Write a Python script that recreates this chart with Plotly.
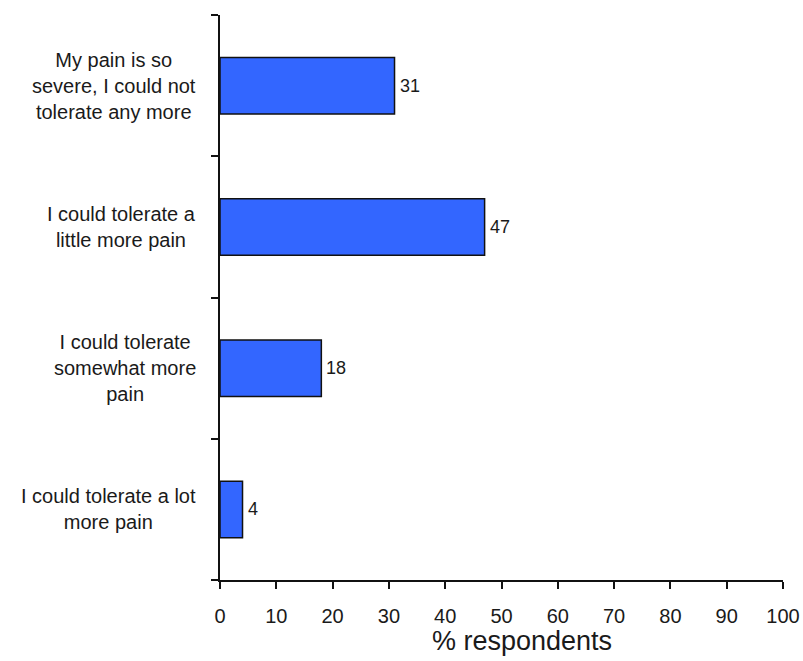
import plotly.graph_objects as go

# Survey responses: tolerance of current pain level
categories = [
    "My pain is so<br>severe, I could not<br>tolerate any more",
    "I could tolerate a<br>little more pain",
    "I could tolerate<br>somewhat more<br>pain",
    "I could tolerate a lot<br>more pain",
]
percent = [31, 47, 18, 4]
x_ticks = [0, 10, 20, 30, 40, 50, 60, 70, 80, 90, 100]
x_title = "% respondents"

FONT = "Liberation Sans, Arial, sans-serif"
BAR_COLOR = "#3366FF"
INK = "#1a1a1a"

fig = go.Figure()
fig.add_trace(go.Bar(
    x=percent,
    y=categories,
    orientation="h",
    width=0.4,
    marker=dict(color=BAR_COLOR, line=dict(color="#111111", width=1.5)),
    hoverinfo="skip",
))

# Value labels just past the end of each bar
for cat, v in zip(categories, percent):
    fig.add_annotation(
        x=v, y=cat, xref="x", yref="y",
        text=str(v), showarrow=False,
        xanchor="left", yanchor="middle", xshift=3,
        font=dict(family=FONT, size=18, color=INK),
    )

# Category labels: centred multi-line blocks, right-aligned against the axis
for cat in categories:
    fig.add_annotation(
        x=-0.039, xref="paper", y=cat, yref="y",
        text=cat, showarrow=False, align="center",
        xanchor="right", yanchor="middle",
        font=dict(family=FONT, size=20, color=INK),
    )

# Axis title, set slightly right of the plot centre
fig.add_annotation(
    x=0.536, xref="paper", y=-0.108, yref="paper",
    text=x_title, showarrow=False,
    xanchor="center", yanchor="middle",
    font=dict(family=FONT, size=27, color=INK),
)

fig.update_layout(
    width=803, height=661,
    margin=dict(l=220, r=20, t=15, b=81),
    paper_bgcolor="white", plot_bgcolor="white",
    showlegend=False,
)
fig.update_xaxes(
    range=[0, 100], tickvals=x_ticks, automargin=False,
    ticks="outside", ticklen=7, tickwidth=1.5, tickcolor="#111111",
    showline=True, linecolor="#111111", linewidth=1.5,
    showgrid=False, zeroline=False,
    ticklabelstandoff=10,
    tickfont=dict(family=FONT, size=20, color=INK),
)
fig.update_yaxes(
    type="category", automargin=False,
    categoryorder="array", categoryarray=categories[::-1],
    range=[-0.5, 3.5],
    tickson="boundaries",
    ticks="outside", ticklen=7, tickwidth=1.5, tickcolor="#111111",
    showline=True, linecolor="#111111", linewidth=1.5,
    showgrid=False, zeroline=False,
    showticklabels=False,
)

fig.write_html("out.html")
